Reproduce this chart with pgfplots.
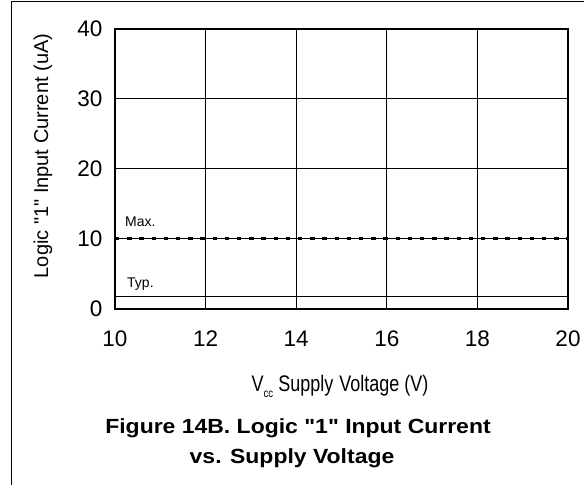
\documentclass[border=0pt]{standalone}
\usepackage{pgfplots}
\pgfplotsset{compat=1.18}
\usepackage{fontspec}
\setmainfont{Liberation Sans}
\begin{document}
\begin{tikzpicture}
\useasboundingbox (0,0) rectangle (584bp,485bp);
\draw[line width=1bp] (11bp,0) -- (11bp,483bp) -- (584bp,483bp);
\begin{axis}[
  at={(115bp,176bp)}, anchor=south west,
  scale only axis, width=453bp, height=280bp,
  xmin=10, xmax=20, ymin=0, ymax=40,
  xtick={10,12,...,20}, ytick={0,10,...,40},
  grid=major,
  major grid style={black, line width=1bp},
  axis line style={black, line width=1.4bp},
  tick style={draw=none},
  /pgf/number format/assume math mode=true,
  tick label style={font=\fontsize{22.5bp}{24bp}\selectfont},
  xticklabel style={anchor=base, yshift=-38bp},
  yticklabel style={xshift=-9bp},
]
\addplot[black, line width=1.7bp] coordinates {(10,1.8) (20,1.8)};
\addplot[black, line width=3bp, dash pattern=on 4.3bp off 7.9bp] coordinates {(10,10) (20,10)};
\end{axis}
\node[rotate=90, anchor=center, font=\fontsize{20bp}{20bp}\selectfont] at (43bp,329bp) {Logic \textquotedbl 1\textquotedbl{} Input Current (uA)};
\node[anchor=base, font=\fontsize{22.5bp}{24bp}\selectfont] at (340bp,93bp) {\scalebox{0.8}[1]{V\raisebox{-6bp}{\fontsize{12bp}{12bp}\selectfont cc} Supply\,\,Voltage (V)}};
\node[anchor=base west, font=\fontsize{14bp}{15bp}\selectfont, inner sep=0pt] at (125bp,258bp) {Max.};
\node[anchor=base west, font=\fontsize{14bp}{15bp}\selectfont, inner sep=0pt] at (127bp,197bp) {Typ.};
\node[anchor=base, font=\bfseries\fontsize{20.5bp}{22bp}\selectfont, inner sep=0pt] at (298bp,51bp) {\scalebox{1.12}[1]{Figure 14B. Logic \textquotedbl 1\textquotedbl{} Input Current}};
\node[anchor=base, font=\bfseries\fontsize{20.5bp}{22bp}\selectfont, inner sep=0pt] at (292bp,22bp) {\scalebox{1.12}[1]{vs. Supply Voltage}};
\end{tikzpicture}
\end{document}
